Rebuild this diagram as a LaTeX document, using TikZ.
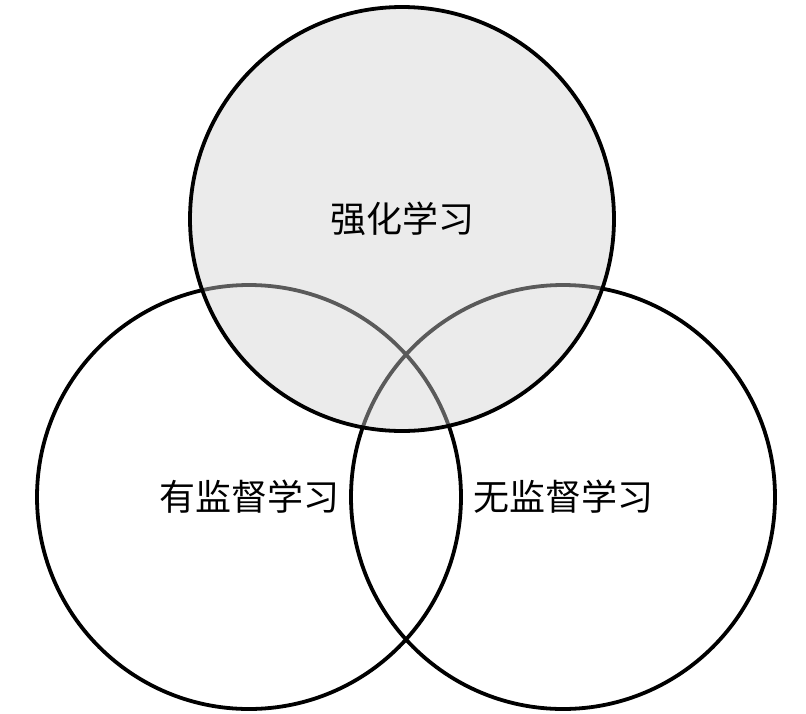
\documentclass[tikz,border=0pt]{standalone}
\usepackage{fontspec}
\newfontfamily\cjk{Noto Sans CJK SC}
\usetikzlibrary{positioning}

\begin{document}
\begin{tikzpicture}[
  x=1pt, y=-1pt,
  ring/.style={circle, draw=black, line width=3.8pt, inner sep=0pt, minimum size=424pt, font=\cjk\fontsize{36}{40}\selectfont},
  shade/.style={ring, fill=black!18, fill opacity=0.43, text opacity=1},
]
\useasboundingbox (0,0) rectangle (806,713);
\node[ring]  (sup)   at (249,497) {有监督学习};
\node[ring]  (unsup) at (563,497) {无监督学习};
\node[shade] (rl)    at (402,219) {强化学习};
\end{tikzpicture}
\end{document}
